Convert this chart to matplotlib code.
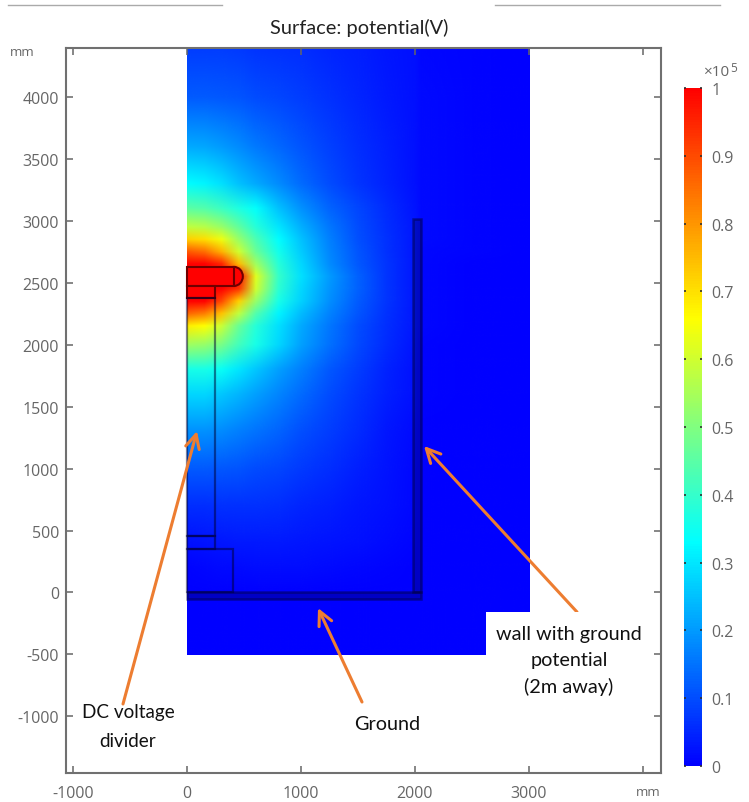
import matplotlib

matplotlib.use('Agg')
import matplotlib.pyplot as plt
import numpy as np
from matplotlib.cm import ScalarMappable
from matplotlib.colors import LinearSegmentedColormap, Normalize
from matplotlib.image import NonUniformImage
from matplotlib.patches import Ellipse, Rectangle

W, H = 749, 803

# --- data ---
grid_x = [0, 150, 300, 450, 600, 800, 1000, 1250, 1500, 1750, 2000, 2050, 2500, 3000]
grid_y = [4395, 4000, 3600, 3300, 3100, 2950, 2850, 2750, 2650, 2550, 2450, 2350, 2250,
          2150, 2000, 1800, 1600, 1300, 1000, 700, 400, 200, 0, -500]
# potential in units of 1e5 V, rows follow grid_y, columns follow grid_x
potential = [
    [.08, .08, .08, .075, .07, .065, .06, .05, .04, .03, .02, .01, .005, 0],
    [.12, .12, .115, .11, .10, .09, .08, .065, .05, .035, .02, .012, .005, 0],
    [.22, .215, .20, .18, .16, .135, .11, .085, .06, .04, .02, .012, .005, 0],
    [.33, .32, .29, .25, .22, .18, .14, .10, .07, .045, .02, .012, .005, 0],
    [.45, .44, .41, .37, .335, .25, .19, .13, .09, .055, .025, .012, .005, 0],
    [.58, .57, .53, .46, .38, .30, .23, .155, .10, .06, .03, .015, .005, 0],
    [.72, .70, .64, .53, .43, .33, .25, .165, .105, .065, .03, .012, .005, 0],
    [.88, .85, .76, .60, .47, .355, .265, .175, .11, .065, .03, .01, .005, 0],
    [1, 1, .95, .75, .54, .38, .28, .18, .115, .07, .03, .008, .003, 0],
    [1, 1, 1, 1, .62, .40, .29, .20, .125, .07, .03, .008, .003, 0],
    [1, 1, 1, .93, .60, .39, .28, .195, .125, .07, .03, .008, .003, 0],
    [1, 1, .90, .72, .53, .36, .27, .185, .12, .07, .03, .008, .003, 0],
    [.86, .83, .74, .58, .44, .32, .245, .17, .11, .065, .03, .008, .003, 0],
    [.68, .66, .59, .47, .38, .29, .22, .155, .10, .06, .03, .008, .003, 0],
    [.54, .53, .49, .42, .36, .28, .21, .145, .095, .055, .025, .006, .002, 0],
    [.36, .36, .34, .30, .26, .21, .165, .115, .08, .045, .02, .005, .002, 0],
    [.28, .28, .26, .235, .21, .175, .14, .10, .07, .04, .02, .005, .002, 0],
    [.19, .19, .18, .165, .15, .13, .105, .08, .055, .03, .015, .003, 0, 0],
    [.12, .12, .115, .11, .10, .09, .075, .06, .04, .025, .01, .002, 0, 0],
    [.06, .06, .065, .065, .065, .06, .05, .04, .03, .02, .01, 0, 0, 0],
    [.02, .025, .03, .035, .035, .035, .03, .025, .02, .012, .005, 0, 0, 0],
    [.005, .01, .012, .015, .018, .018, .016, .014, .01, .006, .003, 0, 0, 0],
    [0, 0, 0, 0, 0, 0, 0, 0, 0, 0, 0, 0, 0, 0],
    [0, 0, 0, 0, 0, 0, 0, 0, 0, 0, 0, 0, 0, 0],
]

x_ticks = [-1000, 0, 1000, 2000, 3000, 4000]
x_labels = ['-1000', '0', '1000', '2000', '3000', '']
y_ticks = [-1000, -500, 0, 500, 1000, 1500, 2000, 2500, 3000, 3500, 4000]
cbar_ticks = [0, 0.1, 0.2, 0.3, 0.4, 0.5, 0.6, 0.7, 0.8, 0.9, 1]
cbar_labels = ['0', '0.1', '0.2', '0.3', '0.4', '0.5', '0.6', '0.7', '0.8', '0.9', '1']

# geometry outlines in mm: (x, y, w, h)
outlines = [
    (0, 0, 400, 355),
    (0, 355, 245, 105),
    (0, 460, 245, 1920),
]
# thin conducting bands, ground plane and wall
bands = [
    (0, -56, 2050, 56),
    (1985, 0, 65, 3015),
]
# parts of the divider sitting at full potential
electrode = [(0, 2476, 412, 154), (0, 2380, 245, 96)]

cmap = LinearSegmentedColormap.from_list('comsol_rainbow', [
    (0.0, '#0000ff'), (0.33, '#00ffff'), (0.5, '#80ff80'), (0.66, '#ffff00'),
    (1.0, '#ff0000')])
norm = Normalize(0, 1)

GRAY = '#666666'
ORANGE = '#ed7d31'

plt.rcParams['font.family'] = ['Open Sans', 'DejaVu Sans']
plt.rcParams['axes.unicode_minus'] = False

fig = plt.figure(figsize=(W / 100, H / 100), dpi=100)


def px_rect(left, top, right, bottom):
    return [left / W, 1 - bottom / H, (right - left) / W, (bottom - top) / H]


ax = fig.add_axes(px_rect(66, 49, 661, 774))
ax.set_xlim(-1061, 4158)
ax.set_ylim(-1458, 4398)

# field (grid_y runs downwards, the image wants it ascending)
im = NonUniformImage(ax, interpolation='bilinear', cmap=cmap, norm=norm)
im.set_data(grid_x, grid_y[::-1], np.array(potential)[::-1])
ax.add_image(im)
im.set_clip_path(Rectangle((grid_x[0], grid_y[-1]), grid_x[-1] - grid_x[0], grid_y[0] - grid_y[-1],
                           transform=ax.transData))

# electrode at full potential
ax.add_patch(Ellipse((412, 2553), 156, 154, fc='#ff0000', ec='#700000', lw=1.5))
for x, y, w, h in electrode:
    ax.add_patch(Rectangle((x, y), w, h, fc='#ff0000', ec='#700000', lw=1.5))

for x, y, w, h in bands:
    ax.add_patch(Rectangle((x, y), w, h, fc=(0, 0, 0.25, 0.3), ec=(0, 0, 0.2, 0.45), lw=1.8))
for x, y, w, h in outlines:
    ax.add_patch(Rectangle((x, y), w, h, fill=False, ec=(0, 0, 0.2, 0.5), lw=1.6))

ax.set_xticks(x_ticks)
ax.set_xticklabels(x_labels)
ax.set_yticks(y_ticks)
ax.tick_params(axis='both', labelsize=11.5, colors=GRAY, length=5, width=1.1,
               direction='in', top=True, right=True)
ax.tick_params(axis='x', pad=9)
ax.tick_params(axis='y', pad=5)
for s in ax.spines.values():
    s.set_color('#707070')
    s.set_linewidth(1.5)

fig.text(10 / W, 1 - 52 / H, 'mm', fontsize=9.5, color=GRAY, va='center')
fig.text(661 / W, 1 - 793 / H, 'mm', fontsize=9.5, color=GRAY, va='center', ha='right')
fig.text(359 / W, 1 - 28 / H, 'Surface: potential(V)', fontsize=14.4, color='#222222',
         ha='center', va='center', family='Lato')

# colorbar
cax = fig.add_axes(px_rect(684, 89, 702, 767))
cb = fig.colorbar(ScalarMappable(norm=norm, cmap=cmap), cax=cax)
cb.set_ticks(cbar_ticks)
cb.set_ticklabels(cbar_labels)
cb.ax.tick_params(labelsize=11.5, labelcolor=GRAY, color='#303030', length=1.5, width=1.2,
                  direction='in', left=True, right=True, pad=7)
cb.outline.set_visible(False)
fig.text(703 / W, 1 - 73 / H, '×10', fontsize=11, color=GRAY, va='center', ha='left')
fig.text(730 / W, 1 - 68 / H, '5', fontsize=8.5, color=GRAY, va='center', ha='left')


# arrows given in figure pixels, like the callouts pasted on the original
def callout(x0, y0, x1, y1):
    ax.annotate('', xy=(x1 / W, 1 - y1 / H), xytext=(x0 / W, 1 - y0 / H),
                xycoords='figure fraction', textcoords='figure fraction',
                arrowprops=dict(arrowstyle='->,head_length=1.0,head_width=0.5', color=ORANGE,
                                lw=2.2, shrinkA=0, shrinkB=0))


callout(123, 705, 197, 432)
callout(362, 703, 318, 609)
callout(577, 613, 424, 447)

ax.add_patch(Rectangle((486 / W, 1 - 700 / H), 164 / W, 87 / H, transform=fig.transFigure,
                       fc='white', ec='none', zorder=3.5))

label_kw = dict(color='#111111', ha='center', va='center', family='Lato', zorder=5)
fig.text(128 / W, 1 - 727 / H, 'DC voltage\ndivider', fontsize=13.6, linespacing=1.8, **label_kw)
fig.text(387 / W, 1 - 725 / H, 'Ground', fontsize=14.3, **label_kw)
fig.text(569 / W, 1 - 661 / H, 'wall with ground\npotential\n(2m away)', fontsize=14.3,
         linespacing=1.65, **label_kw)

# grey rules left over at the top edge of the screenshot
fig.add_artist(plt.Line2D([8 / W, 222 / W], [1 - 6 / H, 1 - 6 / H], color='#aaaaaa', lw=1))
fig.add_artist(plt.Line2D([495 / W, 720 / W], [1 - 6 / H, 1 - 6 / H], color='#aaaaaa', lw=1))

fig.savefig('out.png', dpi=100)
